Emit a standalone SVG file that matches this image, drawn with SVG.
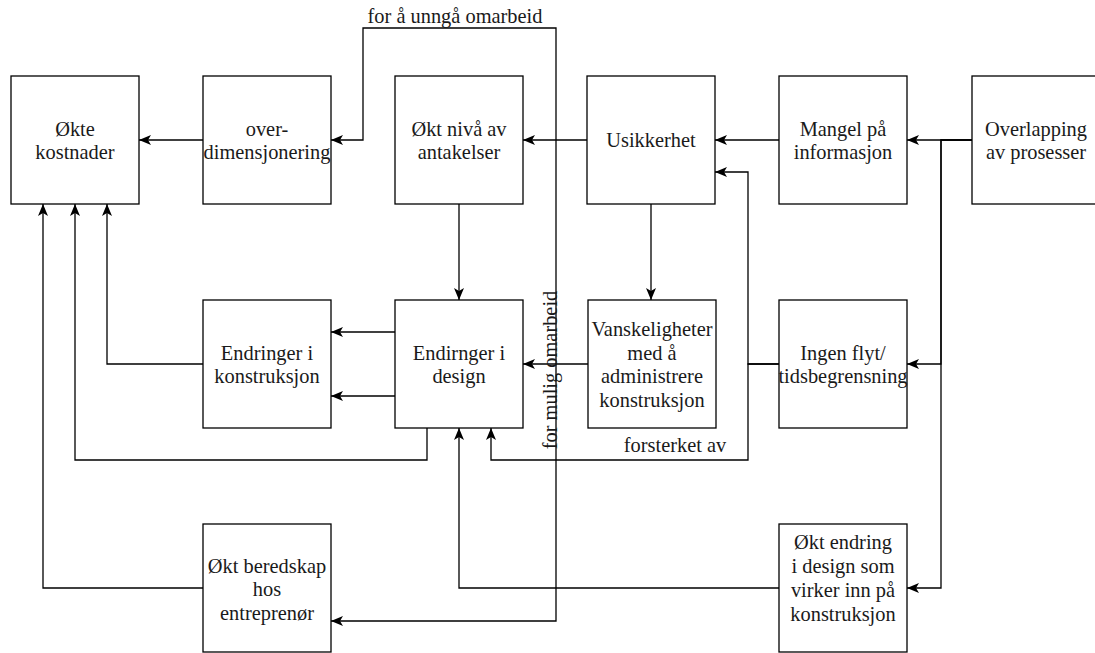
<svg xmlns="http://www.w3.org/2000/svg" width="1095" height="653" viewBox="0 0 1095 653">
<style>
.box{fill:#fff;stroke:#000;stroke-width:1.3}
.t{font-family:"Liberation Serif","Times New Roman",serif;font-size:20.4px;fill:#1a1a1a;text-anchor:middle}
.e{fill:none;stroke:#000;stroke-width:1.3}
</style>
<defs>
<marker id="arr" markerUnits="userSpaceOnUse" viewBox="0 0 12 10" markerWidth="12" markerHeight="10" refX="12" refY="5" orient="auto-start-reverse">
<path d="M12,5 L0,0 L3,5 L0,10 Z" fill="#000"/>
</marker>
</defs>
<rect width="1095" height="653" fill="#fff"/>
<g id="connectors">
<path class="e" d="M203,140 H139" marker-end="url(#arr)"/>
<path class="e" d="M587,140 H523" marker-end="url(#arr)"/>
<path class="e" d="M779,140 H715" marker-end="url(#arr)"/>
<path class="e" d="M972,140 H907" marker-end="url(#arr)"/>
<path class="e" d="M972,140 H941 V364 H907" marker-end="url(#arr)"/>
<path class="e" d="M972,140 H941 V588 H907" marker-end="url(#arr)"/>
<path class="e" d="M651,204 V300" marker-end="url(#arr)"/>
<path class="e" d="M459,204 V300" marker-end="url(#arr)"/>
<path class="e" d="M588,364 H523" marker-end="url(#arr)"/>
<path class="e" d="M779,364 H748 V172 H715" marker-end="url(#arr)"/>
<path class="e" d="M779,364 H748 V460 H491 V428" marker-end="url(#arr)"/>
<path class="e" d="M395,332 H331" marker-end="url(#arr)"/>
<path class="e" d="M395,396 H331" marker-end="url(#arr)"/>
<path class="e" d="M203,364 H107 V204" marker-end="url(#arr)"/>
<path class="e" d="M427,428 V460 H75 V204" marker-end="url(#arr)"/>
<path class="e" d="M203,588 H43 V204" marker-end="url(#arr)"/>
<path class="e" d="M779,588 H459 V428" marker-end="url(#arr)"/>
<path class="e" d="M331,140 H363 V28 H556 V621 H331" marker-start="url(#arr)" marker-end="url(#arr)"/>
<text class="t" x="455" y="23">for å unngå omarbeid</text>
<text class="t" x="675" y="452">forsterket av</text>
<text class="t" transform="translate(557,370) rotate(-90)">for mulig omarbeid</text>
</g>
<g id="okte-kostnader"><rect class="box" x="11" y="76" width="128" height="128"/><text class="t" x="75" y="135.5">Økte</text><text class="t" x="75" y="158.5">kostnader</text></g>
<g id="overdimensjonering"><rect class="box" x="203" y="76" width="128" height="128"/><text class="t" x="267" y="135.5">over-</text><text class="t" x="267" y="158.5">dimensjonering</text></g>
<g id="okt-niva"><rect class="box" x="395" y="76" width="128" height="128"/><text class="t" x="459" y="135.5">Økt nivå av</text><text class="t" x="459" y="158.5">antakelser</text></g>
<g id="usikkerhet"><rect class="box" x="587" y="76" width="128" height="128"/><text class="t" x="651" y="147">Usikkerhet</text></g>
<g id="mangel"><rect class="box" x="779" y="76" width="128" height="128"/><text class="t" x="843" y="135.5">Mangel på</text><text class="t" x="843" y="158.5">informasjon</text></g>
<g id="overlapping"><rect class="box" x="972" y="76" width="128" height="128"/><text class="t" x="1036" y="135.5">Overlapping</text><text class="t" x="1036" y="158.5">av prosesser</text></g>
<g id="endringer-konstruksjon"><rect class="box" x="203" y="300" width="128" height="128"/><text class="t" x="267" y="359.5">Endringer i</text><text class="t" x="267" y="382.5">konstruksjon</text></g>
<g id="endringer-design"><rect class="box" x="395" y="300" width="128" height="128"/><text class="t" x="459" y="359.5">Endirnger i</text><text class="t" x="459" y="382.5">design</text></g>
<g id="vanskeligheter"><rect class="box" x="588" y="300" width="128" height="128"/><text class="t" x="652" y="336">Vanskeligheter</text><text class="t" x="652" y="359.5">med å</text><text class="t" x="652" y="383">administrere</text><text class="t" x="652" y="406.5">konstruksjon</text></g>
<g id="ingen-flyt"><rect class="box" x="779" y="300" width="128" height="128"/><text class="t" x="843" y="359.5">Ingen flyt/</text><text class="t" x="843" y="382.5">tidsbegrensning</text></g>
<g id="okt-beredskap"><rect class="box" x="203" y="524" width="128" height="128"/><text class="t" x="267" y="572.5">Økt beredskap</text><text class="t" x="267" y="596">hos</text><text class="t" x="267" y="619.5">entreprenør</text></g>
<g id="okt-endring"><rect class="box" x="779" y="524" width="128" height="128"/><text class="t" x="843" y="549">Økt endring</text><text class="t" x="843" y="573">i design som</text><text class="t" x="843" y="597">virker inn på</text><text class="t" x="843" y="621">konstruksjon</text></g>
</svg>
